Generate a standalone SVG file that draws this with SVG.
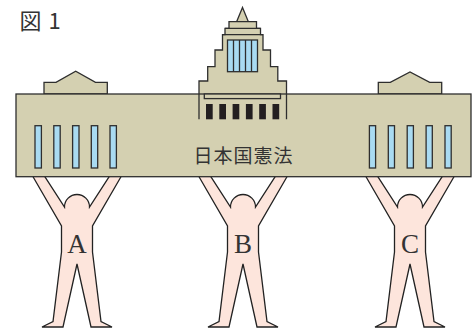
<svg xmlns="http://www.w3.org/2000/svg" xmlns:xlink="http://www.w3.org/1999/xlink" width="475" height="330" viewBox="0 0 475 330">
  <style>
    .wall { fill: #d4d0b1; stroke: #2e2e2e; stroke-width: 1.3; stroke-linejoin: miter; }
    .line { fill: none; stroke: #2e2e2e; stroke-width: 1.3; }
    .pane { fill: #a9dbf2; stroke: #2e2e2e; stroke-width: 1.3; }
    .door { fill: #231f20; }
    .body { fill: #fde5dc; stroke: #222; stroke-width: 1.3; stroke-linejoin: miter; }
    .label { font-family: "Liberation Serif", "Times New Roman", serif; font-size: 27px; fill: #333; text-anchor: middle; }
    .title { font-family: "Noto Sans CJK JP", "Noto Sans", sans-serif; font-size: 22px; fill: #333; word-spacing: 2px; }
    .name { font-family: "Noto Sans CJK JP", "Noto Sans", sans-serif; font-size: 19px; fill: #333; letter-spacing: 1px; text-anchor: middle; }
  </style>
  <defs>
    <!-- standing figure with raised arms, centred on x = 0 -->
    <path id="person" class="body" d="M -45,175 L -33.3,175 L -12.5,207 A 12.5 12.5 0 1 1 12.5,207 L 33.3,175 L 45,175 L 15.5,226 L 15.5,252 L 24,321.5 L 35,327 L 14,327 L 0,264 L -14,327 L -35,327 L -24,321.5 L -15.5,252 L -15.5,226 Z"/>
  </defs>

  <rect width="475" height="330" fill="#ffffff"/>

  <text class="title" x="19.5" y="28.5">図 1</text>

  <!-- people holding up the building -->
  <g id="person-a">
    <use xlink:href="#person" href="#person" transform="translate(77,0)"/>
    <text class="label" x="77" y="253">A</text>
  </g>
  <g id="person-b">
    <use xlink:href="#person" href="#person" transform="translate(243,0)"/>
    <text class="label" x="243" y="253">B</text>
  </g>
  <g id="person-c">
    <use xlink:href="#person" href="#person" transform="translate(410,0)"/>
    <text class="label" x="410" y="253">C</text>
  </g>

  <!-- the Diet building -->
  <g id="building">
    <!-- side pediments -->
    <path class="wall" d="M 44,94 L 44,82.3 L 56,82.3 L 75.7,71.3 L 95.5,82.3 L 107.3,82.3 L 107.3,94 Z"/>
    <path class="wall" d="M 378.3,94 L 378.3,82.3 L 390.3,82.3 L 410,72 L 429.7,82.3 L 441.7,82.3 L 441.7,94 Z"/>

    <!-- central tower -->
    <path class="wall" d="M 236.5,22 L 242.5,7.5 L 248.5,22 Z"/>
    <path class="wall" d="M 199,119.3 L 199,81 L 207.7,81 L 207.7,66.7 L 215,66.7 L 215,50 L 222.5,50 L 222.5,34.7 L 225,34.7 L 225,28.3 L 229,28.3 L 229,21.7 L 256.5,21.7 L 256.5,28.3 L 260.5,28.3 L 260.5,34.7 L 263,34.7 L 263,50 L 270.5,50 L 270.5,66.7 L 277.8,66.7 L 277.8,81 L 286.5,81 L 286.5,119.3"/>
    <path class="line" d="M 225,28.3 H 260.5 M 222.5,34.7 H 263"/>
    <rect class="pane" x="227.5" y="40" width="30" height="31.7"/>
    <path class="line" d="M 233.5,40 V 71.7 M 239.5,40 V 71.7 M 245.5,40 V 71.7 M 251.5,40 V 71.7"/>

    <!-- main hall -->
    <rect class="wall" x="16" y="94" width="455" height="82.7"/>
    <path class="line" d="M 199,94 V 119.3 M 286.5,94 V 119.3"/>
    <rect class="wall" x="204.3" y="94" width="76.2" height="4.6"/>

    <!-- entrance -->
    <rect class="door" x="206" y="104" width="6.7" height="15.3"/>
    <rect class="door" x="219.3" y="104" width="6.7" height="15.3"/>
    <rect class="door" x="232.6" y="104" width="6.7" height="15.3"/>
    <rect class="door" x="245.9" y="104" width="6.7" height="15.3"/>
    <rect class="door" x="259.2" y="104" width="6.7" height="15.3"/>
    <rect class="door" x="272.5" y="104" width="6.7" height="15.3"/>

    <!-- windows, left wing -->
    <rect class="pane" x="35" y="125.7" width="6.4" height="42.3"/>
    <rect class="pane" x="53.8" y="125.7" width="6.4" height="42.3"/>
    <rect class="pane" x="72.6" y="125.7" width="6.4" height="42.3"/>
    <rect class="pane" x="91.3" y="125.7" width="6.4" height="42.3"/>
    <rect class="pane" x="110" y="125.7" width="6.4" height="42.3"/>
    <!-- windows, right wing -->
    <rect class="pane" x="369.4" y="125.7" width="6.2" height="42.3"/>
    <rect class="pane" x="388.3" y="125.7" width="6.2" height="42.3"/>
    <rect class="pane" x="407.2" y="125.7" width="6.2" height="42.3"/>
    <rect class="pane" x="426.1" y="125.7" width="6.2" height="42.3"/>
    <rect class="pane" x="445" y="125.7" width="6.2" height="42.3"/>

    <text class="name" x="243.5" y="163">日本国憲法</text>
  </g>
</svg>
